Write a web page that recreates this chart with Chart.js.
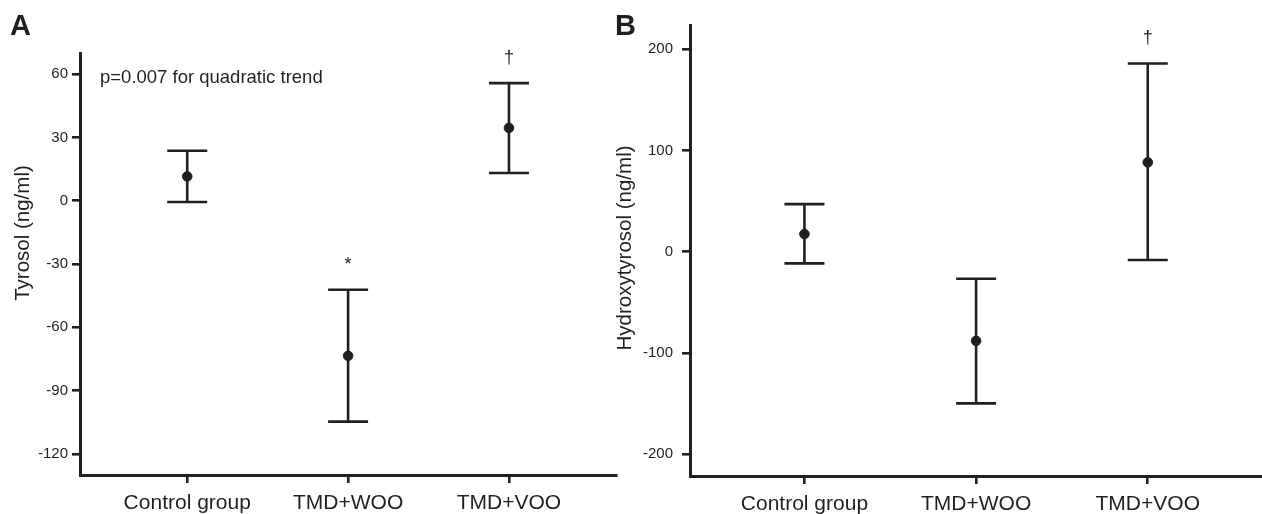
<!DOCTYPE html>
<html>
<head>
<meta charset="utf-8">
<script src="https://cdn.jsdelivr.net/npm/chart.js@4.4.1/dist/chart.umd.min.js"></script>
<style>
    html, body { margin: 0; padding: 0; background: #fff; }
    #wrap { position: relative; width: 1262px; height: 514px; overflow: hidden; }
    .panel { position: absolute; top: 0; height: 514px; }
    #panelA { left: 0; width: 622px; }
    #panelB { left: 600px; width: 668px; }
</style>
</head>
<body>
<div id="wrap">
    <div class="panel" id="panelA"><canvas id="chartA"></canvas></div>
    <div class="panel" id="panelB"><canvas id="chartB"></canvas></div>
</div>
<script>
// Groups on the x axis
const groups = ["Control group", "TMD+WOO", "TMD+VOO"];

// Panel A - Tyrosol (ng/ml)
const tyrosolMean = [11.5, -73.5, 34.5];
const tyrosolUpper = [23.7, -42.2, 55.7];
const tyrosolLower = [-0.6, -104.7, 13.1];
const tyrosolTicks = [-120, -90, -60, -30, 0, 30, 60];
const tyrosolMarks = ["", "*", "\u2020"];

// Panel B - Hydroxytyrosol (ng/ml)
const hydroxyMean = [17.5, -88, 88.3];
const hydroxyUpper = [47.1, -26.7, 186];
const hydroxyLower = [-11.5, -149.8, -8.2];
const hydroxyTicks = [-200, -100, 0, 100, 200];
const hydroxyMarks = ["", "", "\u2020"];

const ink = "#231f20";
const fontFamily = "'Liberation Sans', Arial, Helvetica, sans-serif";

// error bars, significance marks, panel letter and axis title
const errorBarPlugin = {
    id: "errorBars",
    beforeDatasetsDraw(chart, args, opts) {
        const { ctx, scales: { x, y } } = chart;
        ctx.save();
        ctx.strokeStyle = ink;
        ctx.lineWidth = 2.6;
        opts.upper.forEach((u, i) => {
            const px = x.getPixelForValue(i + 1);
            const top = y.getPixelForValue(u);
            const bot = y.getPixelForValue(opts.lower[i]);
            ctx.beginPath();
            ctx.moveTo(px, top); ctx.lineTo(px, bot);
            ctx.moveTo(px - 20, top); ctx.lineTo(px + 20, top);
            ctx.moveTo(px - 20, bot); ctx.lineTo(px + 20, bot);
            ctx.stroke();
        });
        ctx.restore();
    },
    afterDraw(chart, args, opts) {
        const { ctx, scales: { x, y } } = chart;
        ctx.save();
        ctx.fillStyle = ink;

        // significance marks above the bars
        ctx.font = "18px " + fontFamily;
        ctx.textAlign = "center";
        ctx.textBaseline = "alphabetic";
        opts.marks.forEach((m, i) => {
            if (!m) return;
            ctx.fillText(m, x.getPixelForValue(i + 1), y.getPixelForValue(opts.upper[i]) - 20);
        });

        // note text
        if (opts.note) {
            ctx.font = "18.5px " + fontFamily;
            ctx.textAlign = "left";
            ctx.textBaseline = "middle";
            ctx.fillText(opts.note, chart.chartArea.left + 20, y.getPixelForValue(opts.noteValue) + 4);
        }

        // panel letter
        ctx.font = "bold 29px " + fontFamily;
        ctx.textAlign = "left";
        ctx.textBaseline = "alphabetic";
        ctx.fillText(opts.letter, opts.letterX, 35);

        // y axis title
        ctx.font = "20.5px " + fontFamily;
        ctx.textAlign = "center";
        ctx.textBaseline = "middle";
        ctx.translate(opts.titleX, opts.titleY);
        ctx.rotate(-Math.PI / 2);
        ctx.fillText(opts.title, 0, 0);
        ctx.restore();
    }
};

function makeChart(id, cfg) {
    const ctx = document.getElementById(id).getContext("2d");
    return new Chart(ctx, {
        type: "scatter",
        data: {
            datasets: [{
                data: cfg.mean.map((v, i) => ({ x: i + 1, y: v })),
                backgroundColor: ink,
                borderColor: ink,
                pointRadius: 4.8,
                pointHoverRadius: 4.8,
                showLine: false
            }]
        },
        options: {
            responsive: true,
            maintainAspectRatio: false,
            animation: false,
            devicePixelRatio: 1,
            layout: { padding: cfg.padding },
            plugins: {
                legend: { display: false },
                tooltip: { enabled: false },
                errorBars: {
                    upper: cfg.upper,
                    lower: cfg.lower,
                    marks: cfg.marks,
                    note: cfg.note,
                    noteValue: cfg.noteValue,
                    letter: cfg.letter,
                    letterX: cfg.letterX,
                    title: cfg.title,
                    titleX: cfg.titleX,
                    titleY: cfg.titleY
                }
            },
            scales: {
                x: {
                    type: "linear",
                    min: 1 / 3,
                    max: 11 / 3,
                    afterBuildTicks: s => { s.ticks = groups.map((g, i) => ({ value: i + 1 })); },
                    afterFit: s => { s.height = cfg.xHeight; },
                    grid: { drawOnChartArea: false, drawTicks: true, tickLength: 8, color: ink, lineWidth: 2.6 },
                    border: { display: true, color: ink, width: 3 },
                    ticks: {
                        autoSkip: false,
                        maxRotation: 0,
                        padding: 8,
                        color: ink,
                        font: { family: fontFamily, size: 21 },
                        callback: v => groups[v - 1]
                    }
                },
                y: {
                    min: cfg.yMin,
                    max: cfg.yMax,
                    afterBuildTicks: s => { s.ticks = cfg.ticks.map(v => ({ value: v })); },
                    afterFit: s => { s.width = cfg.yWidth; },
                    grid: { drawOnChartArea: false, drawTicks: true, tickLength: 8, color: ink, lineWidth: 2.6 },
                    border: { display: true, color: ink, width: 3 },
                    ticks: {
                        padding: cfg.tickPad,
                        color: ink,
                        font: { family: fontFamily, size: 15 }
                    }
                }
            }
        },
        plugins: [errorBarPlugin]
    });
}

makeChart("chartA", {
    mean: tyrosolMean, upper: tyrosolUpper, lower: tyrosolLower,
    ticks: tyrosolTicks, marks: tyrosolMarks,
    yMin: -130, yMax: 70,
    padding: { top: 53, right: 3, left: 0, bottom: 0 },
    xHeight: 39, yWidth: 80, tickPad: 4,
    note: "p=0.007 for quadratic trend", noteValue: 60,
    letter: "A", letterX: 10,
    title: "Tyrosol (ng/ml)", titleX: 23, titleY: 233
});

makeChart("chartB", {
    mean: hydroxyMean, upper: hydroxyUpper, lower: hydroxyLower,
    ticks: hydroxyTicks, marks: hydroxyMarks,
    yMin: -221.5, yMax: 224,
    padding: { top: 25, right: 0, left: 0, bottom: 0 },
    xHeight: 38, yWidth: 90, tickPad: 9,
    note: "", noteValue: 0,
    letter: "B", letterX: 15,
    title: "Hydroxytyrosol (ng/ml)", titleX: 25, titleY: 248
});
</script>
</body>
</html>
